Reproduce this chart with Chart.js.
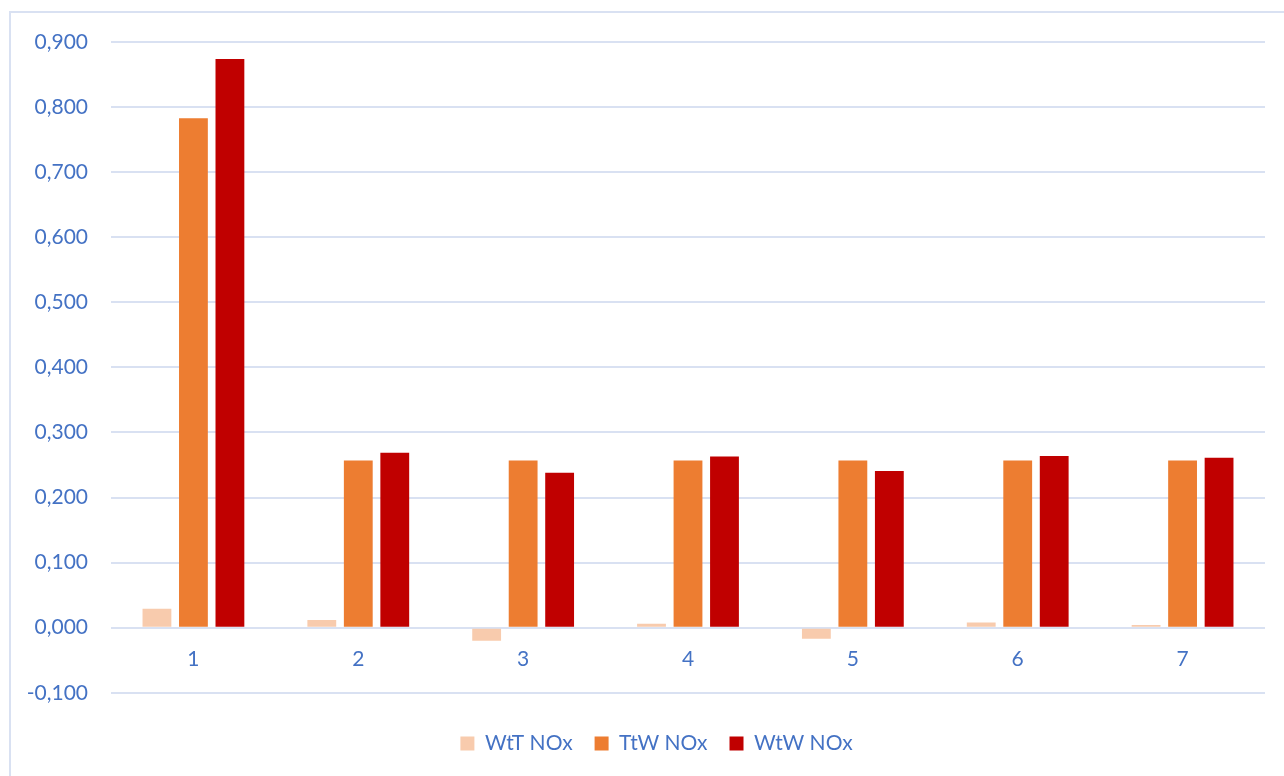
<!DOCTYPE html>
<html>
<head>
<meta charset="utf-8">
<script src="https://cdn.jsdelivr.net/npm/chart.js@4.4.1/dist/chart.umd.min.js"></script>
<style>
  html, body { margin: 0; padding: 0; background: #ffffff; overflow: hidden; }
  #wrap { position: relative; width: 1284px; height: 776px; }
  #frame { position: absolute; left: 9px; top: 11px; width: 1400px; height: 900px;
           border: 2px solid #D9E1F2; box-sizing: border-box; }
  canvas { position: absolute; left: 0; top: 0; }
</style>
</head>
<body>
<div id="wrap">
  <div id="frame"></div>
  <canvas id="chart" width="1284" height="776"></canvas>
</div>
<script>
// Categories and NOx series (values per category)
const categories = ['1', '2', '3', '4', '5', '6', '7'];
const wttNox = [0.029, 0.012, -0.020, 0.006, -0.017, 0.008, 0.004];
const ttwNox = [0.783, 0.257, 0.257, 0.257, 0.257, 0.257, 0.257];
const wtwNox = [0.874, 0.269, 0.238, 0.263, 0.241, 0.264, 0.261];
const seriesNames = ['WtT NOx', 'TtW NOx', 'WtW NOx'];

const textColor = '#4472C4';
const gridColor = '#D9E1F2';
const fontFamily = 'Lato, "Open Sans", sans-serif';

const commaFmt = v => v.toFixed(3).replace('.', ',');

// nudges the legend row to the right so it is centred under the whole frame
const legendShift = {
  id: 'legendShift',
  afterLayout(chart) {
    const lg = chart.legend;
    if (lg) { lg.left += 24; lg.right += 24; }
  }
};

new Chart(document.getElementById('chart'), {
  type: 'bar',
  data: {
    labels: categories,
    datasets: [
      { label: seriesNames[0], data: wttNox, backgroundColor: '#F8CBAD' },
      { label: seriesNames[1], data: ttwNox, backgroundColor: '#ED7D31' },
      { label: seriesNames[2], data: wtwNox, backgroundColor: '#C00000' }
    ]
  },
  plugins: [legendShift],
  options: {
    responsive: false,
    animation: false,
    layout: { padding: { left: 0, right: 19, top: 42, bottom: 12 } },
    datasets: { bar: { categoryPercentage: 0.664, barPercentage: 0.79 } },
    plugins: {
      tooltip: { enabled: false },
      legend: {
        position: 'bottom',
        // empty title only reserves a gap between the plot and the legend row
        title: { display: true, text: '', font: { size: 1 }, padding: { top: 0, bottom: 17 } },
        labels: {
          color: textColor,
          font: { family: fontFamily, size: 21 },
          boxWidth: 14,
          boxHeight: 14,
          padding: 22
        }
      }
    },
    scales: {
      x: {
        position: { y: 0 },
        grid: { display: false },
        border: { display: false },
        ticks: { color: textColor, font: { family: fontFamily, size: 21 }, padding: 11 }
      },
      y: {
        min: -0.1,
        max: 0.9,
        afterFit: s => { s.width = 111; },
        grid: { color: gridColor, lineWidth: 2, drawTicks: false },
        border: { display: false },
        ticks: {
          stepSize: 0.1,
          color: textColor,
          font: { family: fontFamily, size: 21 },
          padding: 23,
          callback: v => commaFmt(v)
        }
      }
    }
  }
});
</script>
</body>
</html>
